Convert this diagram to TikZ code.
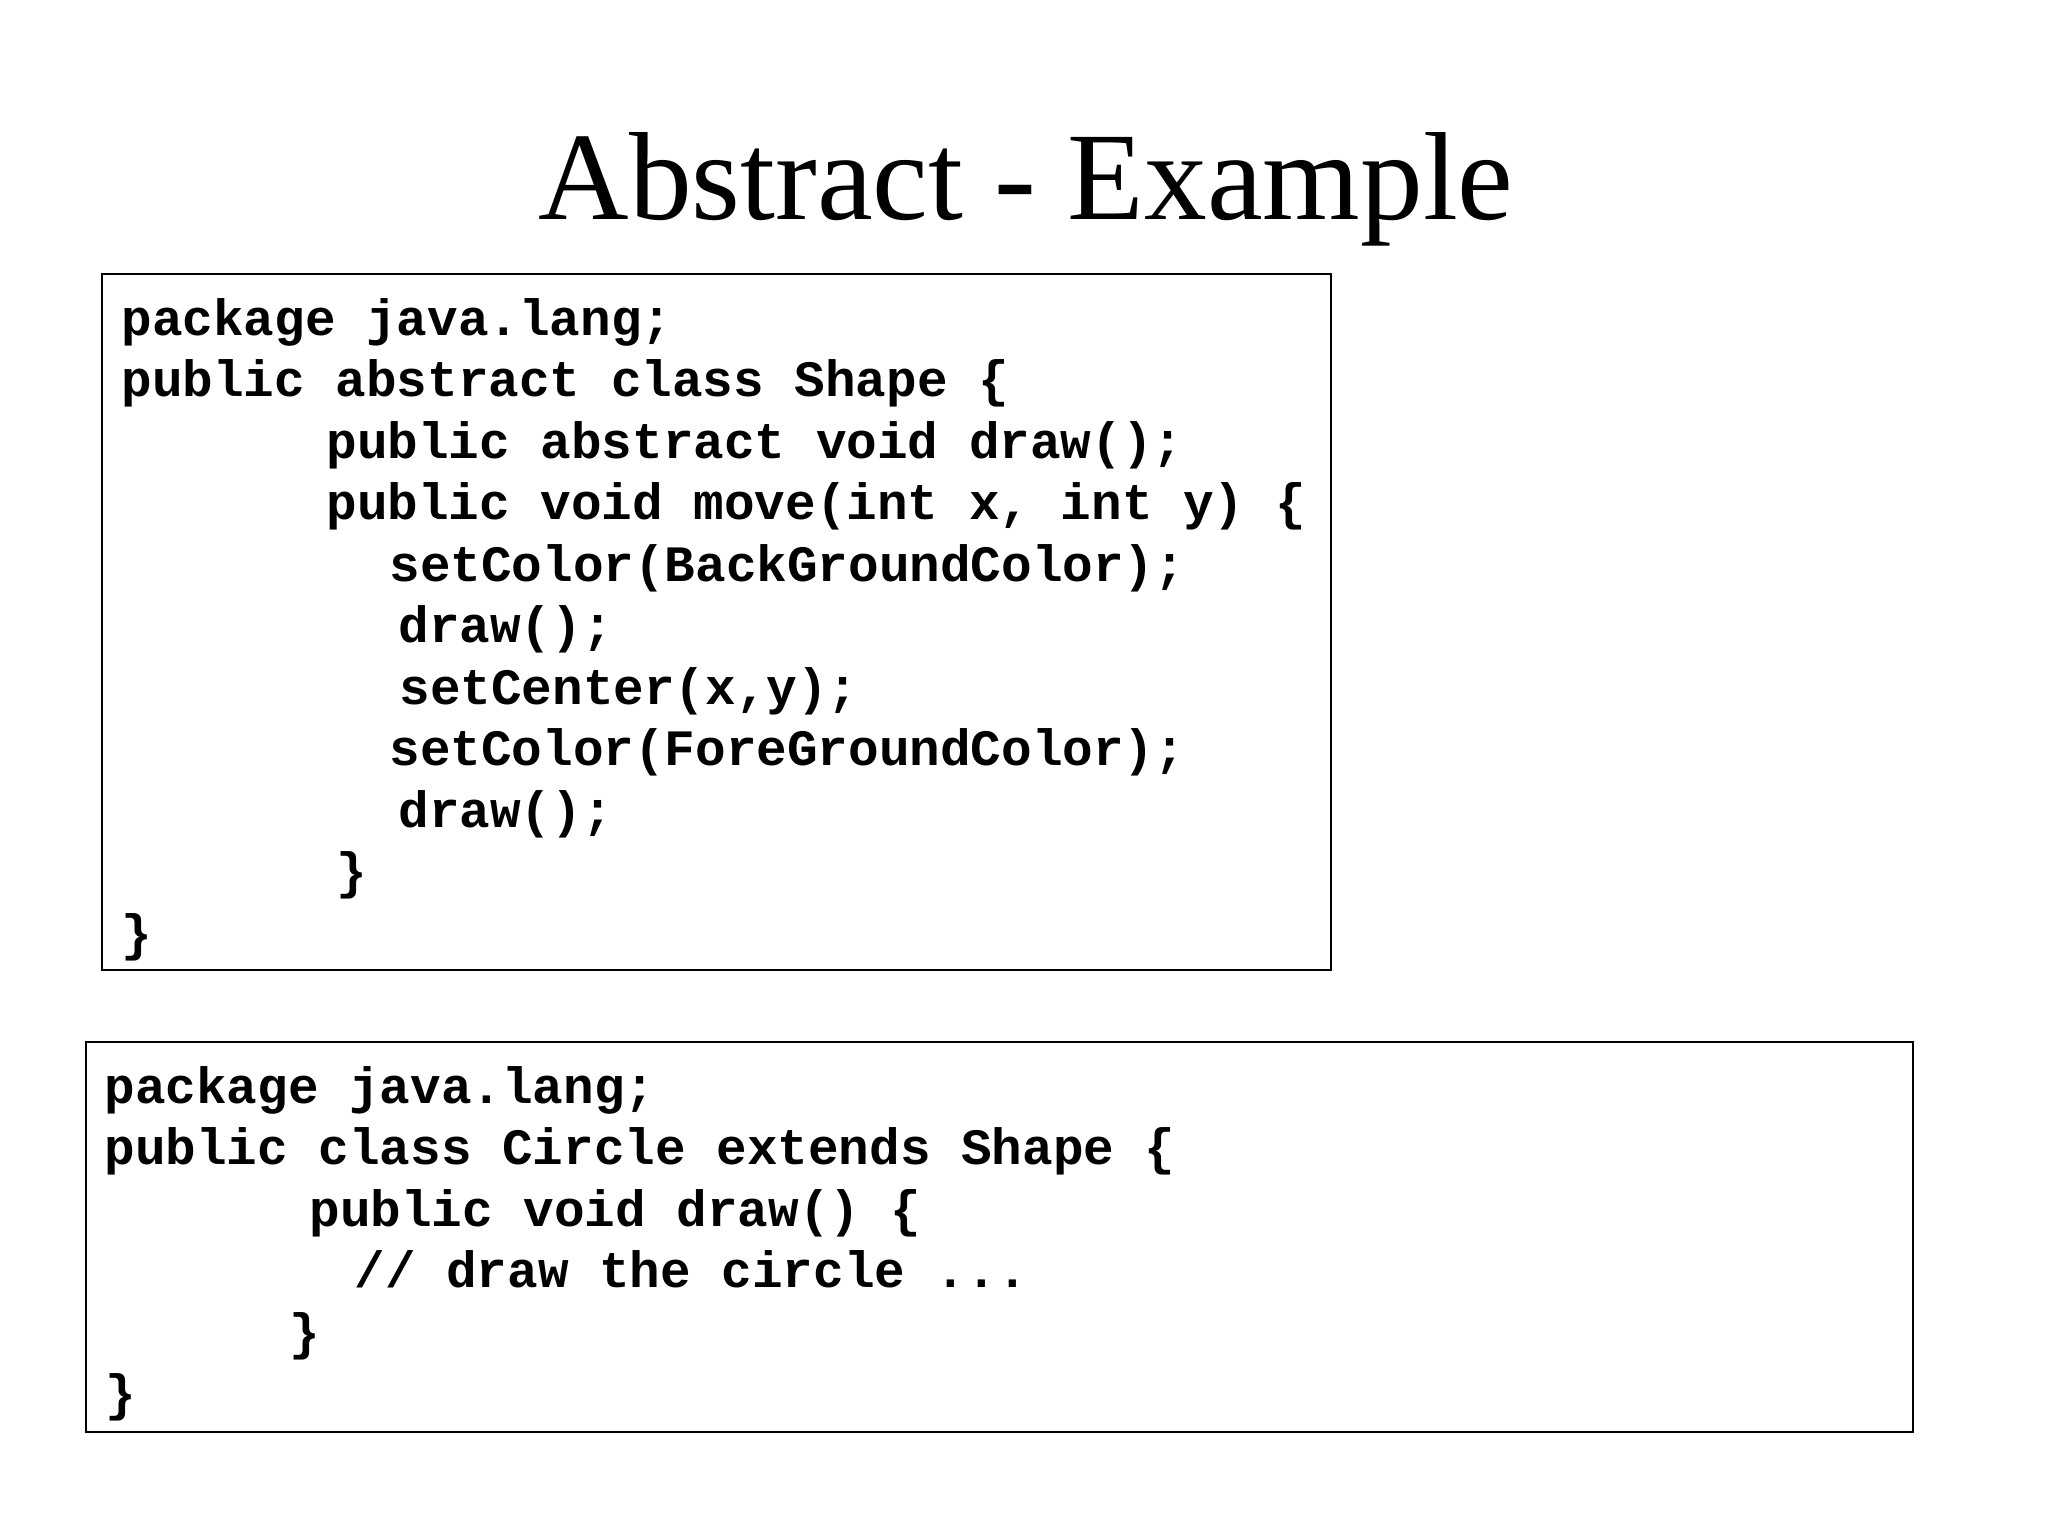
\documentclass[tikz,border=0pt]{standalone}
\usepackage{fontspec}
\setmainfont{Liberation Serif}
\setmonofont{Liberation Mono}
\begin{document}
\begin{tikzpicture}[x=0.5pt,y=-0.5pt,
  codebox/.style={draw=black,line width=1.2pt,inner sep=0pt,anchor=north west},
  codeline/.style={anchor=base west,inner sep=0pt,font=\ttfamily\bfseries\fontsize{25.5}{31}\selectfont},
  titletext/.style={anchor=base,inner sep=0pt,font=\fontsize{62.7}{70}\selectfont}]
\useasboundingbox[fill=white] (0,0) rectangle (2048,1536);
\node[titletext] (title) at (1026,219) {Abstract - Example};
% box 1
\node[codebox,minimum width=614.5pt,minimum height=348pt] (box1) at (101,273) {};
\node[codeline] (a1) at (121,335) {package java.lang;};
\node[codeline] (a2) at (121,396.5) {public abstract class Shape \{};
\node[codeline] (a3) at (326,458) {public abstract void draw();};
\node[codeline] (a4) at (326,519.5) {public void move(int x, int y) \{};
\node[codeline] (a5) at (389,581) {setColor(BackGroundColor);};
\node[codeline] (a6) at (398,642.5) {draw();};
\node[codeline] (a7) at (399,704) {setCenter(x,y);};
\node[codeline] (a8) at (389,765.5) {setColor(ForeGroundColor);};
\node[codeline] (a9) at (398,827) {draw();};
\node[codeline] (a10) at (336,888.5) {\}};
\node[codeline] (a11) at (121,950) {\}};
% box 2
\node[codebox,minimum width=913.5pt,minimum height=195pt] (box2) at (85,1041) {};
\node[codeline] (b1) at (104,1103) {package java.lang;};
\node[codeline] (b2) at (104,1164.5) {public class Circle extends Shape \{};
\node[codeline] (b3) at (309,1226) {public void draw() \{};
\node[codeline] (b4) at (354,1287.5) {// draw the circle ...};
\node[codeline] (b5) at (289,1349) {\}};
\node[codeline] (b6) at (105,1410.5) {\}};
\end{tikzpicture}
\end{document}
